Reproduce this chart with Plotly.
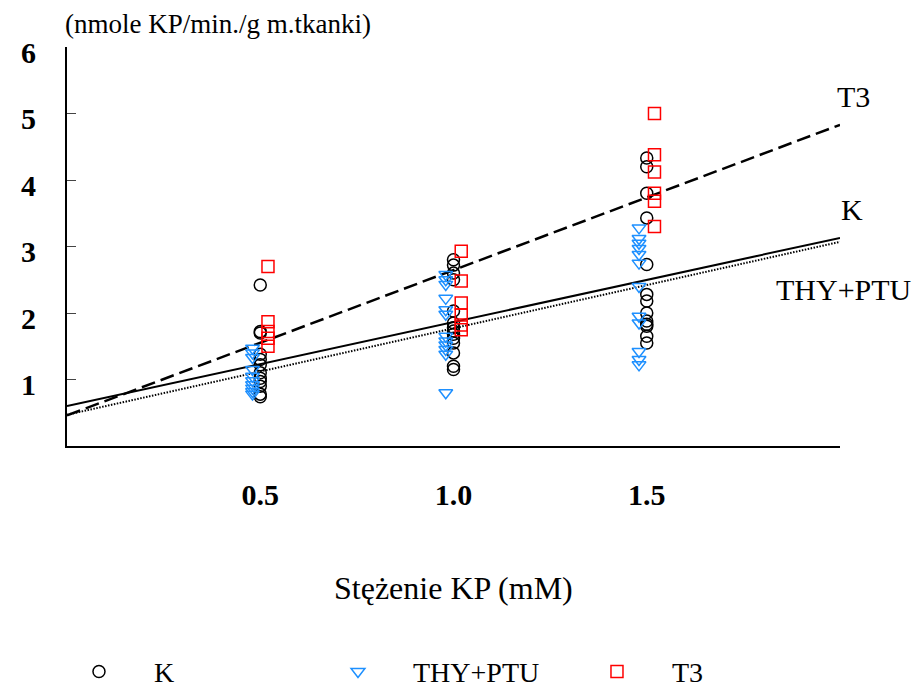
import plotly.graph_objects as go

# concentrations (mM)
conc = [0.5, 1.0, 1.5]

# group K (control)
k_05 = [2.42, 1.72, 1.70, 1.38, 1.30, 1.22, 1.10, 1.02, 0.97, 0.90, 0.78, 0.74]
k_10 = [2.80, 2.72, 2.60, 2.50, 2.03, 1.85, 1.78, 1.73, 1.68, 1.62, 1.55, 1.40, 1.20, 1.15]
k_15 = [4.33, 4.20, 3.80, 3.43, 2.73, 2.28, 2.18, 2.00, 1.88, 1.83, 1.80, 1.65, 1.55]

# group THY+PTU
thy_05 = [1.47, 1.40, 1.33, 1.15, 1.05, 0.98, 0.92, 0.87, 0.82, 0.78]
thy_10 = [2.58, 2.50, 2.43, 2.22, 2.05, 1.98, 1.65, 1.58, 1.52, 1.45, 1.38, 0.80]
thy_15 = [3.28, 3.12, 3.05, 2.97, 2.88, 2.75, 2.40, 1.95, 1.85, 1.42, 1.30, 1.22]

# group T3
t3_05 = [2.70, 1.87, 1.72, 1.62, 1.50]
t3_10 = [2.93, 2.48, 2.15, 1.97, 1.82, 1.75]
t3_15 = [5.00, 4.38, 4.12, 3.80, 3.68, 3.30]

# regression lines (intercept, slope)
line_names = ["K", "THY+PTU", "T3"]
intercepts = [0.60, 0.47, 0.46]
slopes = [1.265, 1.30, 2.185]
line_x = [0.0, 2.0]

y_ticks = [1, 2, 3, 4, 5, 6]
y_tick_text = ["1", "2", "3", "4", "5", "6"]
x_ticks = [0.5, 1.0, 1.5]
x_tick_text = ["0.5", "1.0", "1.5"]

X_RANGE = [0, 2]
Y_RANGE = [0, 6]
FONT = "Liberation Serif"


def flatten(groups, offset):
    xs, ys = [], []
    for c, vals in zip(conc, groups):
        xs += [c + offset] * len(vals)
        ys += vals
    return xs, ys


fig = go.Figure()

styles = {
    "K": dict(color="black", dash="solid", width=2),
    "THY+PTU": dict(color="black", dash="1.5px,1.5px", width=2),
    "T3": dict(color="black", dash="14px,6px", width=2.5),
}
for name, a, b in zip(line_names, intercepts, slopes):
    fig.add_trace(go.Scatter(
        x=line_x, y=[a + b * x for x in line_x], mode="lines",
        line=styles[name], showlegend=False, hoverinfo="skip"))

series = [
    ("K", [k_05, k_10, k_15], 0.0, "circle-open", "black"),
    ("THY+PTU", [thy_05, thy_10, thy_15], -0.02, "triangle-down-open", "#1E90FF"),
    ("T3", [t3_05, t3_10, t3_15], 0.02, "square-open", "red"),
]
for name, groups, off, sym, col in series:
    xs, ys = flatten(groups, off)
    fig.add_trace(go.Scatter(
        x=xs, y=ys, mode="markers", name="\u00a0" * 5 + name,
        marker=dict(symbol=sym, size=12, color=col, line=dict(width=1.5, color=col)),
    ))

# line labels (positions in data units, beyond the right end of the axis)
label_pos = {"T3": (2.034, 5.25), "K": (2.032, 3.55), "THY+PTU": (2.01, 2.36)}
for name in line_names:
    lx, ly = label_pos[name]
    fig.add_annotation(x=(lx - X_RANGE[0]) / (X_RANGE[1] - X_RANGE[0]),
                       y=(ly - Y_RANGE[0]) / (Y_RANGE[1] - Y_RANGE[0]),
                       xref="paper", yref="paper", xanchor="center", yanchor="middle",
                       text=name, showarrow=False,
                       font=dict(family=FONT, size=30, color="black"))

# y tick labels (sit slightly below their tick marks, as in the original)
for v, t in zip(y_ticks, y_tick_text):
    fig.add_annotation(x=0, y=v, xref="paper", yref="y", xanchor="center", yanchor="middle",
                       xshift=-39, yshift=-5, text=t, showarrow=False,
                       font=dict(family=FONT, size=30, color="black", weight="bold"))

# axis titles
fig.add_annotation(xref="paper", yref="paper", x=0, y=1, xanchor="left", yanchor="bottom",
                   xshift=-4, yshift=6, text="(nmole KP/min./g m.tkanki)", showarrow=False,
                   font=dict(family=FONT, size=27, color="black"))
fig.add_annotation(xref="paper", yref="paper", x=0.5, y=0, xanchor="center", yanchor="middle",
                   yshift=-142, text="Stężenie KP (mM)", showarrow=False,
                   font=dict(family=FONT, size=32, color="black"))

fig.update_layout(
    width=919, height=687,
    margin=dict(l=67, r=79, t=47, b=241, autoexpand=False),
    paper_bgcolor="white", plot_bgcolor="white",
    font=dict(family=FONT, color="black"),
    xaxis=dict(range=X_RANGE, showgrid=False, zeroline=False, showline=True,
               linecolor="black", linewidth=2, tickvals=x_ticks, ticktext=x_tick_text,
               ticks="", ticklabelstandoff=21,
               tickfont=dict(family=FONT, size=30, color="black", weight="bold")),
    yaxis=dict(range=Y_RANGE, showgrid=False, zeroline=False, showline=True,
               linecolor="black", linewidth=2, tickvals=y_ticks, ticks="inside",
               ticklen=9, tickwidth=1, tickcolor="#444", showticklabels=False),
    legend=dict(orientation="h", x=0.0155, y=-0.566, xanchor="left", yanchor="middle",
                entrywidth=214, entrywidthmode="pixels",
                font=dict(family=FONT, size=28, color="black")),
)

fig.write_html("out.html")
